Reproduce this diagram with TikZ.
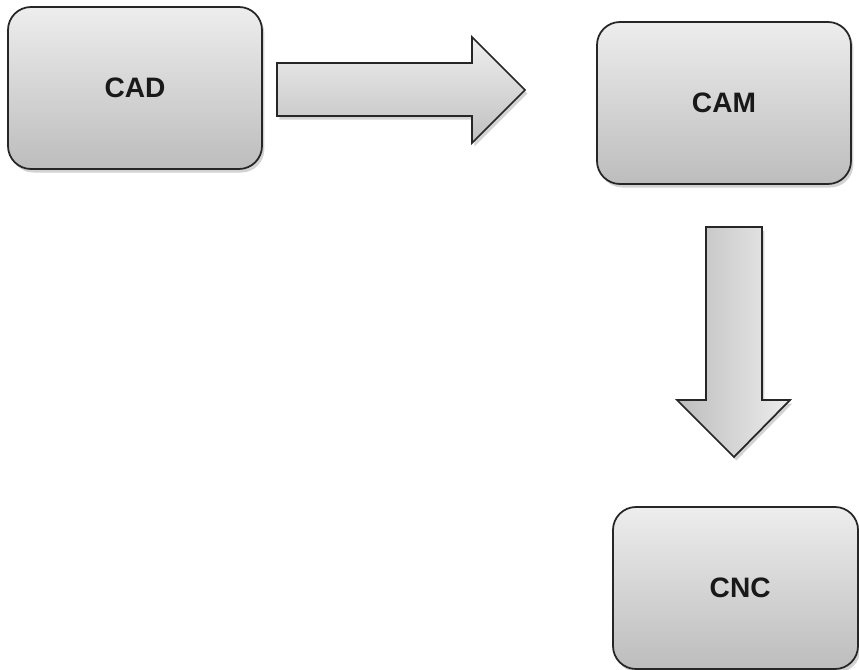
\documentclass[tikz,border=0pt]{standalone}
\usepackage{fontspec}
\setmainfont{Liberation Sans}
\usetikzlibrary{shadows}
\usetikzlibrary{calc, positioning}

\begin{document}
\begin{tikzpicture}[x=0.03cm, y=-0.03cm,
    stage/.style={draw=black!85, line width=1.5pt, rounded corners=0.69cm,
      top color=black!7, bottom color=black!26,
      minimum height=4.86cm, inner sep=0pt,
      font=\fontsize{24}{28}\selectfont\bfseries, text=black!90,
      drop shadow={shadow xshift=2pt, shadow yshift=-3pt, opacity=.35}},
    blockarrow/.style={draw=black!85, line width=1.5pt, line join=miter,
      drop shadow={shadow xshift=2pt, shadow yshift=-3pt, opacity=.35}}]
    \path[use as bounding box] (0,0) rectangle (859,670);

    % the three stages
    \node[stage, minimum width=7.62cm] (cad) at (135,88) {\raisebox{-2pt}{CAD}};
    \node[stage, minimum width=7.62cm] (cam) at (724,103) {\raisebox{-2pt}{CAM}};
    \node[stage, minimum width=7.35cm] (cnc) at (735.5,588) {\hspace{8pt}\raisebox{-2pt}{CNC}};

    % \draw[->] (cad) -- (cam);
    % \draw[->] (cam) -- (cnc);

    % cad to cam
    \path[blockarrow, top color=black!6, bottom color=black!25]
      (277,63) -- (472,63) -- (472,37) -- (525,90) -- (472,143)
      -- (472,116) -- (277,116) -- cycle;

    % cam to cnc
    \path[blockarrow, left color=black!26, right color=black!7]
      (706,227) -- (762,227) -- (762,400) -- (790,400) -- (734,457)
      -- (677,400) -- (706,400) -- cycle;

\end{tikzpicture}
\end{document}
